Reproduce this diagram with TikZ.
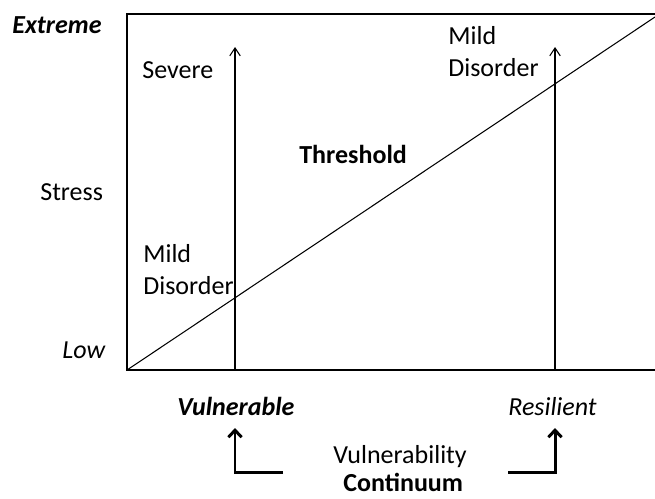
\documentclass[tikz,border=0pt]{standalone}
\usepackage{fontspec}
\setmainfont{Carlito}
\usetikzlibrary{arrows.meta}

\tikzset{
    txt/.style={font=\fontsize{14.8}{18}\selectfont, inner sep=0pt, anchor=base west},
    frame/.style={line width=1.2pt, line cap=rect},
    thinarrow/.style={line width=0.6pt, -{Straight Barb[length=4.5pt, width=6pt]}},
    bigarrow/.style={line width=1.7pt, -{Straight Barb[length=4pt, width=7.5pt, line width=1.7pt]}}
}

\begin{document}
\begin{tikzpicture}[x=0.02cm, y=-0.02cm]
    \useasboundingbox (0,0) rectangle (655,498);
    
    \coordinate (o) at (127,370);
    \coordinate (tl) at (127,14);
    \coordinate (tr) at (655,14);
    \coordinate (br) at (655,370);
    \coordinate (dtop) at (655,17);
    
    \draw[frame] (tr) -- (tl) -- (o) -- (br);
    \draw[line width=0.6pt] (o) -- (dtop);
    
    \coordinate (vbase) at (235,370);
    \coordinate (vtop) at (235,47);
    \coordinate (rbase) at (555,370);
    \coordinate (rtop) at (555,47);
    
    \draw[thinarrow] (vbase) -- (vtop);
    \draw[thinarrow] (rbase) -- (rtop);
    
    \node[txt, font=\fontsize{14.8}{18}\selectfont\bfseries\itshape] (extreme) at (12,33) {Extreme};
    \node[txt] (stress) at (40,200) {Stress};
    \node[txt, font=\fontsize{14.8}{18}\selectfont\itshape] (low) at (62,358) {Low};
    
    \node[txt] (severe) at (142,78) {Severe};
    \node[txt, align=left] (mildL) at (143,294) {Mild\\Disorder};
    \node[txt, align=left] (mildR) at (448,76) {Mild\\Disorder};
    \node[txt, font=\fontsize{14.8}{18}\selectfont\bfseries] (thresh) at (299,163) {Threshold};
    
    \node[txt, font=\fontsize{14.8}{18}\selectfont\bfseries\itshape] (vuln) at (177,415) {Vulnerable};
    \node[txt, font=\fontsize{14.8}{18}\selectfont\itshape] (resil) at (508,415) {Resilient};
    \node[txt] (vcont) at (333,463) {Vulnerability};
    \node[txt, font=\fontsize{14.8}{18}\selectfont\bfseries] (cont) at (343,491) {Continuum};
    
    \coordinate (lstart) at (283,472);
    \coordinate (ltip) at (235,428);
    \coordinate (rstart) at (508,472);
    \coordinate (rtip) at (555,428);
    
    \draw[bigarrow] (lstart) -| (ltip);
    \draw[bigarrow] (rstart) -| (rtip);
    
\end{tikzpicture}
\end{document}
